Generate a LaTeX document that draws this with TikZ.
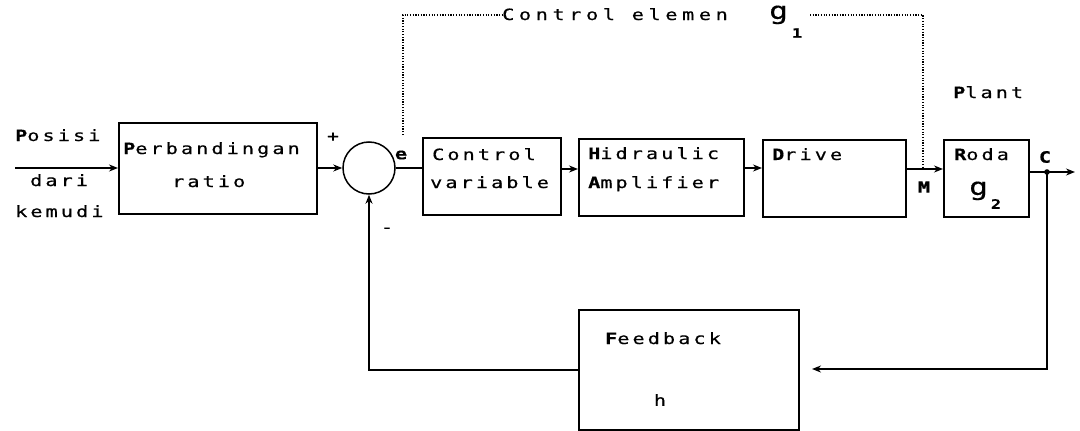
\documentclass[tikz,border=0pt]{standalone}
\usepackage{fontspec}
\newfontfamily\plotfont[LetterSpace=20,FakeStretch=1.3,FakeBold=0.5]{DejaVu Sans Mono}
\usetikzlibrary{arrows.meta}
\begin{document}
\begin{tikzpicture}[x=1pt,y=-1pt,
  font=\plotfont\fontsize{15.5}{18}\selectfont,
  blk/.style={draw, line width=1.5pt, inner sep=0pt, anchor=north west},
  lbl/.style={inner sep=0pt, anchor=west, text height=11pt, text depth=3pt},
  sym/.style={inner sep=0pt},
  wire/.style={line width=1.5pt},
  arr/.style={line width=1.5pt, -{Stealth[length=9pt,width=7pt]}},
  dots/.style={line width=1.5pt, dash pattern=on 1.2pt off 1.5pt}
]
\useasboundingbox (0,0) rectangle (1080,431);

% blocks
\node[blk, minimum width=198pt, minimum height=91pt] (pb) at (118,122) {};
\node[draw, circle, line width=1.5pt, minimum size=52pt, inner sep=0pt] (sum) at (369,168) {};
\node[blk, minimum width=138pt, minimum height=77pt] (cv) at (422,137) {};
\node[blk, minimum width=165pt, minimum height=77pt] (ha) at (578,138) {};
\node[blk, minimum width=143pt, minimum height=77pt] (dr) at (762,139) {};
\node[blk, minimum width=85pt, minimum height=77pt] (rd) at (943,139) {};
\node[blk, minimum width=220pt, minimum height=120pt] (fb) at (578,309) {};

% texts
\node[lbl] (tposisi) at (15,137) {{\bfseries P}osisi};
\node[lbl] (tdari) at (30,182) {dari};
\node[lbl] (tkemudi) at (15,213) {kemudi};
\node[lbl] (tperb) at (123,150) {{\bfseries P}erbandingan};
\node[lbl] (tratio) at (172,183) {ratio};
\node[sym] (tplus) at (333,137) {+};
\node[sym] (te) at (401,155) {\bfseries e};
\node[sym] (tminus) at (387,230) {-};
\node[lbl] (tcontrol) at (432,156) {Control};
\node[lbl] (tvariable) at (430,184) {variable};
\node[lbl] (thid) at (588,155) {{\bfseries H}idraulic};
\node[lbl] (tamp) at (588,184) {{\bfseries A}mplifier};
\node[lbl] (tdrive) at (772,156) {{\bfseries D}rive};
\node[lbl] (troda) at (954,156) {{\bfseries R}oda};
\node[sym, anchor=base west] (tg2) at (969,195) {\fontsize{24}{24}\selectfont g};
\node[sym] (tsub2) at (996,204) {\bfseries\fontsize{13}{13}\selectfont 2};
\node[sym] (tM) at (924,187) {\bfseries M};
\node[sym] (tC) at (1045,157) {\bfseries C};
\node[lbl] (tplant) at (953,94) {{\bfseries P}lant};
\node[lbl] (tfeed) at (605,340) {{\bfseries F}eedback};
\node[sym] (th) at (660,400) {h};
\node[lbl] (tce) at (502,16) {\addfontfeature{LetterSpace=30}Control elemen};
\node[sym, anchor=base west] (tg1) at (769,19) {\fontsize{24}{24}\selectfont g};
\node[sym] (tsub1) at (797,33) {\bfseries\fontsize{13}{13}\selectfont 1};

% coordinates
\coordinate (in) at (15,168);
\coordinate (split) at (1047,172);
\coordinate (out) at (1075,172);
\coordinate (fbin) at (812,369);
\coordinate (d1) at (403,135);
\coordinate (d2) at (403,15);
\coordinate (d3) at (810,15);
\coordinate (d4) at (923,15);
\coordinate (d5) at (923,169);

% connectors
\draw[arr] (in) -- (pb.west |- in);
\draw[arr] (pb.east |- sum) -- (sum.west);
\draw[wire] (sum.east) -- (cv.west |- sum);
\draw[arr] (cv.east |- d5) -- (ha.west |- d5);
\draw[arr] (ha.east |- sum) -- (dr.west |- sum);
\draw[arr] (dr.east |- d5) -- (rd.west |- d5);
\draw[wire] (rd.east |- split) -- (split);
\draw[arr] (split) -- (out);
\fill (split) circle (2.8pt);
\draw[arr] (split) |- (fbin);
\draw[arr] (fb.west) -| (sum.south);

% dotted control element bracket
\draw[dots] (d1) -- (d2) -- (d2 -| tce.west);
\draw[dots] (d3) -- (d4) -- (d5);
\end{tikzpicture}
\end{document}
